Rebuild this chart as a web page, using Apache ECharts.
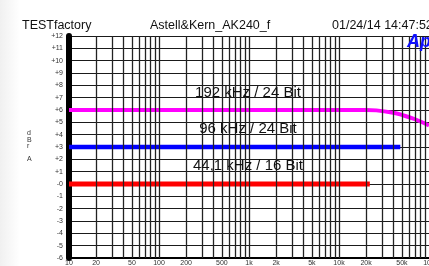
<!DOCTYPE html>
<html>
<head>
<meta charset="utf-8">
<script src="https://cdn.jsdelivr.net/npm/echarts@6/dist/echarts.min.js"></script>
<style>
  html, body { margin: 0; padding: 0; background: #fff; }
  #chart { width: 429px; height: 266px; }
</style>
</head>
<body>
<div id="chart"></div>
<script>
// frequencies (Hz) and levels (dBr A)
const freq192 = [10, 20, 50, 100, 1000, 10000, 20000, 26000, 40000, 50000, 70000, 100000]
const level192 = [6, 6, 6, 6, 6, 6, 6, 5.97, 5.78, 5.6, 5.25, 4.75]
const freq96 = [10, 100, 1000, 10000, 20000, 48000]
const level96 = [3, 3, 3, 3, 3, 3]
const freq44 = [10, 100, 1000, 10000, 22000]
const level44 = [0, 0, 0, 0, 0]

// log grid lines and the ones that carry a label
const gridFreqs = [20, 30, 40, 50, 60, 70, 80, 90, 100, 200, 300, 400, 500, 600, 700, 800, 900,
  1000, 2000, 3000, 4000, 5000, 6000, 7000, 8000, 9000, 10000, 20000, 30000, 40000, 50000,
  60000, 70000, 80000, 90000]
const freqLabels = { 10: '10', 20: '20', 50: '50', 100: '100', 200: '200', 500: '500', 1000: '1k',
  2000: '2k', 5000: '5k', 10000: '10k', 20000: '20k', 50000: '50k', 100000: '100' }

const seriesLabels = ['192 kHz / 24 Bit', '96 kHz / 24 Bit', '44,1 kHz / 16 Bit']

const toPairs = (xs, ys) => xs.map((x, i) => [x, ys[i]])

const chart = echarts.init(document.getElementById('chart'), null, { renderer: 'canvas' })

const lineFont = { fontFamily: 'Liberation Sans, Arial, sans-serif' }

const gridMarks = gridFreqs.map(f => ({ xAxis: f }))
const labelMarks = Object.keys(freqLabels).map(f => ({
  xAxis: Number(f),
  lineStyle: { color: 'rgba(0,0,0,0)' },
  label: { show: true, formatter: freqLabels[f] }
}))

const option = {
  animation: false,
  backgroundColor: '#fff',
  grid: { left: 69, right: 0, top: 36, bottom: 8 },
  xAxis: {
    type: 'log',
    logBase: 10,
    min: 10,
    max: 100000,
    axisLine: { show: true, onZero: false, lineStyle: { color: '#000', width: 2 } },
    axisTick: { show: false },
    axisLabel: { show: false },
    splitLine: { show: false }
  },
  yAxis: {
    type: 'value',
    min: -6,
    max: 12,
    interval: 1,
    axisLine: { show: true, onZero: false, lineStyle: { color: '#000', width: 6 } },
    axisTick: { show: false },
    axisLabel: {
      color: '#333',
      fontSize: 7,
      margin: 6,
      fontFamily: 'Liberation Sans, Arial, sans-serif',
      formatter: v => v > 0 ? '+' + v : (v === 0 ? '-0' : String(v))
    },
    splitLine: { show: true, lineStyle: { color: '#1a1a1a', width: 1.2 } }
  },
  series: [
    {
      type: 'line',
      data: [],
      z: 1,
      silent: true,
      markLine: {
        silent: true,
        symbol: 'none',
        animation: false,
        lineStyle: { color: '#222', width: 1.3, type: 'solid' },
        label: {
          show: false,
          position: 'start',
          distance: 2,
          color: '#333',
          fontSize: 7,
          ...lineFont
        },
        data: gridMarks.concat(labelMarks)
      }
    },
    {
      name: seriesLabels[0],
      type: 'line',
      data: toPairs(freq192, level192),
      smooth: 0.4,
      showSymbol: false,
      z: 3,
      lineStyle: { color: '#ff00ff', width: 4 }
    },
    {
      name: seriesLabels[1],
      type: 'line',
      data: toPairs(freq96, level96),
      showSymbol: false,
      z: 3,
      lineStyle: { color: '#0000ff', width: 4.5 }
    },
    {
      name: seriesLabels[2],
      type: 'line',
      data: toPairs(freq44, level44),
      showSymbol: false,
      z: 3,
      lineStyle: { color: '#ff0000', width: 5 }
    }
  ],
  graphic: [
    {
      type: 'rect',
      left: 0, top: 0, z: -1,
      shape: { width: 20, height: 266 },
      style: {
        fill: new echarts.graphic.LinearGradient(0, 0, 1, 0, [
          { offset: 0, color: 'rgba(0,0,0,0.06)' },
          { offset: 1, color: 'rgba(0,0,0,0)' }
        ])
      }
    },
    { type: 'text', left: 22, top: 19, style: { text: 'TESTfactory', font: '12.5px Liberation Sans, Arial', fill: '#111' } },
    { type: 'text', left: 150, top: 19, style: { text: 'Astell&Kern_AK240_f', font: '12.5px Liberation Sans, Arial', fill: '#111' } },
    { type: 'text', left: 332, top: 19, style: { text: '01/24/14 14:47:52', font: '12.5px Liberation Sans, Arial', fill: '#111' } },
    { type: 'text', left: 407, top: 33, z: 10, style: { text: 'Ap', font: 'italic bold 18px Liberation Sans, Arial', fill: '#1010ff' } },
    { type: 'text', left: 27, top: 130, style: { text: 'd\nB\nr\n\nA', font: '7px Liberation Sans, Arial', fill: '#333', lineHeight: 6.5, align: 'center' } },
    { type: 'text', x: 248, y: 93, z: 10, style: { text: seriesLabels[0], font: '15px Liberation Sans, Arial', fill: '#111', align: 'center', verticalAlign: 'middle' } },
    { type: 'text', x: 248, y: 129, z: 10, style: { text: seriesLabels[1], font: '15px Liberation Sans, Arial', fill: '#111', align: 'center', verticalAlign: 'middle' } },
    { type: 'text', x: 248, y: 166, z: 10, style: { text: seriesLabels[2], font: '15px Liberation Sans, Arial', fill: '#111', align: 'center', verticalAlign: 'middle' } }
  ]
}

chart.setOption(option)
</script>
</body>
</html>
